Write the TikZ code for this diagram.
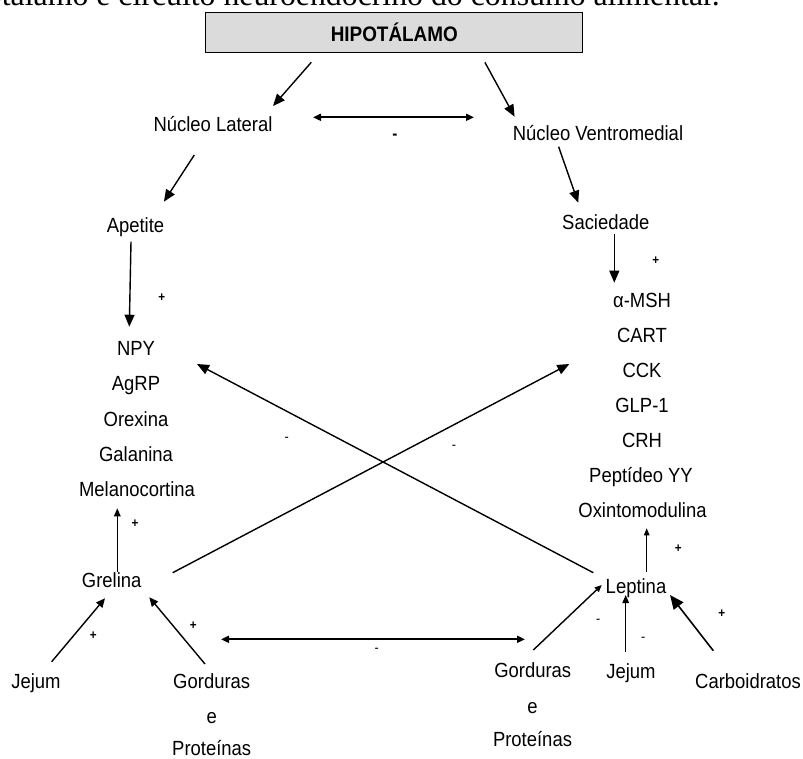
\documentclass[tikz,border=0pt]{standalone}
\usepackage{fontspec}
\setmainfont[FakeStretch=0.9]{Liberation Sans}
\newfontfamily\capfont{Liberation Serif}
\usetikzlibrary{arrows.meta}

\begin{document}
\begin{tikzpicture}[x=1pt,y=-1pt,
  lbl/.style={inner sep=0pt,text height=14pt,text depth=0pt,font=\fontsize{20.5}{23}\selectfont},
  box/.style={draw=black,fill=gray!28,line width=1.3pt,minimum width=377pt,minimum height=40pt,inner sep=0pt,font=\fontsize{21}{23}\selectfont\bfseries},
  plus/.style={inner sep=0pt,font=\fontsize{13}{14}\selectfont\bfseries},
  minus/.style={inner sep=0pt,font=\fontsize{14}{14}\selectfont},
  arr/.style={line width=1.4pt,-{Triangle[length=12pt,width=10pt]}},
  arrsmall/.style={line width=1.4pt,-{Triangle[length=8pt,width=6.5pt]}},
  arrthin/.style={line width=1pt,-{Triangle[length=7pt,width=5.5pt]}},
  arrbig/.style={line width=1.6pt,-{Triangle[length=14pt,width=12pt]}},
  dbl/.style={line width=1.8pt,{Triangle[length=8pt,width=7pt]}-{Triangle[length=8pt,width=7pt]}}]
\useasboundingbox (0,0) rectangle (803,758);
\clip (0,0) rectangle (803,758);

\node[anchor=base east,inner sep=0pt,font=\capfont\fontsize{31.8}{36}\selectfont] (caption) at (720,5) {Hipotálamo e circuito neuroendócrino do consumo alimentar.};
\node[box] (hipo) at (394.3,32.7) {HIPOTÁLAMO};

\node[lbl] (nl) at (213,124.3) {Núcleo Lateral};
\node[lbl] (nv) at (598,133.3) {Núcleo Ventromedial};
\node[lbl] (ap) at (135.5,225) {Apetite};
\node[lbl] (sac) at (605.8,222.3) {Saciedade};

\node[lbl] (npy) at (136,348.3) {NPY};
\node[lbl] (agrp) at (136,383.3) {AgRP};
\node[lbl] (orex) at (136,419.3) {Orexina};
\node[lbl] (gal) at (136,454) {Galanina};
\node[lbl] (mel) at (137,489) {Melanocortina};

\node[lbl] (amsh) at (642,300) {α-MSH};
\node[lbl] (cart) at (642,335) {CART};
\node[lbl] (cck) at (642,370) {CCK};
\node[lbl] (glp) at (642,405) {GLP-1};
\node[lbl] (crh) at (642,440) {CRH};
\node[lbl] (pyy) at (641,475) {Peptídeo YY};
\node[lbl] (oxi) at (642.5,510.7) {Oxintomodulina};

\node[lbl] (gre) at (111.7,580.7) {Grelina};
\node[lbl] (lep) at (636,586.7) {Leptina};

\node[lbl] (jl) at (36,681.7) {Jejum};
\node[lbl] (gl) at (211.7,681.7) {Gorduras};
\node[lbl] (gle) at (211.7,716.5) {e};
\node[lbl] (glp2) at (211.7,748) {Proteínas};
\node[lbl] (gr) at (532.7,670) {Gorduras};
\node[lbl] (gre2) at (532.5,706) {e};
\node[lbl] (grp) at (532.5,739.3) {Proteínas};
\node[lbl] (jr) at (631,671.7) {Jejum};
\node[lbl] (cb) at (748,681) {Carboidratos};

% sinais
\node[inner sep=0pt,font=\fontsize{17}{17}\selectfont\bfseries] (m1) at (395,136.7) {-};
\node[plus] (p1) at (161.7,297.3) {+};
\node[plus] (p2) at (655.7,261) {+};
\node[plus] (p3) at (135,523.3) {+};
\node[plus] (p4) at (678.3,548.3) {+};
\node[plus] (p5) at (93.3,635.7) {+};
\node[plus] (p6) at (193.3,625.7) {+};
\node[plus] (p7) at (721.7,614) {+};
\node[minus] (m2) at (286.7,439.3) {-};
\node[minus] (m3) at (454,447.3) {-};
\node[minus] (m4) at (376.7,650) {-};
\node[minus] (m5) at (598.3,621) {-};
\node[minus] (m6) at (643.3,639) {-};

\draw[arr] ([shift={(-83,29.6)}]hipo.center) -- ([shift={(60,-18.3)}]nl.center);
\draw[arr] ([shift={(90.6,29.6)}]hipo.center) -- ([shift={(-83.4,-16.6)}]nv.center);
\draw[dbl] ([shift={(100,-7)}]nl.center) -- ([shift={(-124,-16)}]nv.center);
\draw[arr] ([shift={(-18.7,30.7)}]nl.center) -- ([shift={(28.4,-23.3)}]ap.center);
\draw[arr] ([shift={(-39.4,13.4)}]nv.center) -- ([shift={(-27.6,-19.6)}]sac.center);
\draw[arr] ([shift={(-4.5,16.7)}]ap.center) -- ([shift={(-6.7,-21.6)}]npy.center);
\draw[arr,line width=1.1pt] ([shift={(8.5,12)}]sac.center) -- ([shift={(-27.7,-17.3)}]amsh.center);

\draw[arrsmall] ([shift={(5.6,-9)}]gre.center) -- ([shift={(-19.7,19.3)}]mel.center);
\draw[arrthin] ([shift={(10.7,-15)}]lep.center) -- ([shift={(4.2,17.6)}]oxi.center);

\draw[arr] ([shift={(61,-8)}]gre.center) -- ([shift={(-72.7,-6)}]cck.center);
\draw[arr] ([shift={(-42.7,-14)}]lep.center) -- ([shift={(61,15.7)}]npy.center);

\draw[arr,-{Triangle[length=9pt,width=8pt]}] ([shift={(15.7,-20)}]jl.center) -- ([shift={(-6.7,17.6)}]gre.center);
\draw[arr,-{Triangle[length=9pt,width=8pt]}] ([shift={(-6.7,-17.7)}]gl.center) -- ([shift={(37.6,16.6)}]gre.center);
\draw[dbl] ([shift={(9.3,-42.4)}]gl.center) -- ([shift={(-7.7,-30.7)}]gr.center);

\draw[arrsmall,-{Triangle[length=7pt,width=6pt]}] ([shift={(0.6,-20)}]gr.center) -- ([shift={(-34.3,-1.7)}]lep.center);
\draw[arrsmall] ([shift={(-5.3,-20)}]jr.center) -- ([shift={(-10.3,8.3)}]lep.center);
\draw[arrbig] ([shift={(-34.7,-30.3)}]cb.center) -- ([shift={(34,8.3)}]lep.center);
\end{tikzpicture}
\end{document}
